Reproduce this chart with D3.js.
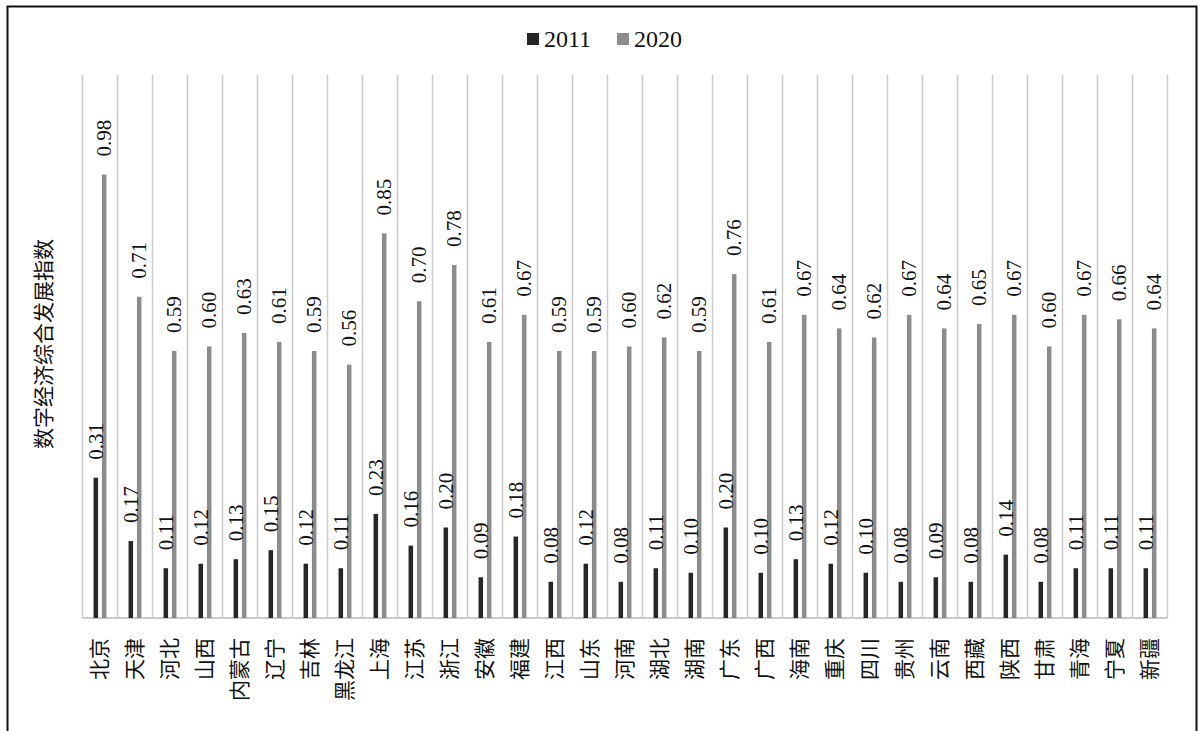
<!DOCTYPE html>
<html>
<head>
<meta charset="utf-8">
<script src="https://cdn.jsdelivr.net/npm/d3@7"></script>
<style>
  body { margin: 0; background: #fff; }
  svg { display: block; }
</style>
</head>
<body>
<div id="chart"></div>
<script>
const provinces = ["北京", "天津", "河北", "山西", "内蒙古", "辽宁", "吉林", "黑龙江", "上海", "江苏",
    "浙江", "安徽", "福建", "江西", "山东", "河南", "湖北", "湖南", "广东", "广西",
    "海南", "重庆", "四川", "贵州", "云南", "西藏", "陕西", "甘肃", "青海", "宁夏", "新疆"];
const years = ["2011", "2020"];
const values2011 = [0.31, 0.17, 0.11, 0.12, 0.13, 0.15, 0.12, 0.11, 0.23, 0.16,
    0.20, 0.09, 0.18, 0.08, 0.12, 0.08, 0.11, 0.10, 0.20, 0.10,
    0.13, 0.12, 0.10, 0.08, 0.09, 0.08, 0.14, 0.08, 0.11, 0.11, 0.11];
const values2020 = [0.98, 0.71, 0.59, 0.60, 0.63, 0.61, 0.59, 0.56, 0.85, 0.70,
    0.78, 0.61, 0.67, 0.59, 0.59, 0.60, 0.62, 0.59, 0.76, 0.61,
    0.67, 0.64, 0.62, 0.67, 0.64, 0.65, 0.67, 0.60, 0.67, 0.66, 0.64];
const yTitle = "数字经济综合发展指数";

const width = 1198, height = 731;
const plotLeft = 82.5, plotRight = 1167.5, plotTop = 75, plotBottom = 618;     // plot area
const colors = { "2011": "#262626", "2020": "#8c8c8c" };
const serif = "'Liberation Serif', 'Times New Roman', serif";
const cjk = "'Noto Sans CJK SC', sans-serif";

const rows = provinces.map((p, i) => ({ name: p, "2011": values2011[i], "2020": values2020[i] }));

const svg = d3.select("#chart").append("svg")
    .attr("width", width)
    .attr("height", height);

// outer frame
svg.append("rect")
    .attr("x", 7.5).attr("y", 6.5)
    .attr("width", 1189).attr("height", 740)
    .attr("fill", "none")
    .attr("stroke", "#111")
    .attr("stroke-width", 2);

const x0 = d3.scaleBand().domain(provinces).range([plotLeft, plotRight]).padding(0);
const x1 = d3.scaleBand().domain(years).range([0, x0.bandwidth()])
    .paddingInner(0.46).paddingOuter(1.32);
const y = d3.scaleLinear().domain([0, 1.2]).range([plotBottom, plotTop]);

// vertical separators between categories
const edges = provinces.map(p => x0(p)).concat([plotRight]);
svg.append("g").selectAll("line")
    .data(edges)
    .join("line")
    .attr("x1", d => d).attr("x2", d => d)
    .attr("y1", plotTop).attr("y2", plotBottom)
    .attr("stroke", "#cacaca")
    .attr("stroke-width", 1.5);

// baseline
svg.append("line")
    .attr("x1", plotLeft).attr("x2", plotRight)
    .attr("y1", plotBottom).attr("y2", plotBottom)
    .attr("stroke", "#cacaca")
    .attr("stroke-width", 2);

// bars + value labels
const groups = svg.append("g").selectAll("g")
    .data(rows)
    .join("g")
    .attr("transform", d => `translate(${x0(d.name)},0)`);

groups.selectAll("rect")
    .data(d => years.map(k => ({ key: k, value: d[k] })))
    .join("rect")
    .attr("x", d => x1(d.key))
    .attr("y", d => y(d.value))
    .attr("width", x1.bandwidth())
    .attr("height", d => plotBottom - y(d.value))
    .attr("fill", d => colors[d.key]);

groups.selectAll("text")
    .data(d => years.map(k => ({ key: k, value: d[k] })))
    .join("text")
    .attr("transform", d => `translate(${x1(d.key) + x1.bandwidth() / 2 + 7},${y(d.value) - 18}) rotate(-90)`)
    .attr("font-family", serif)
    .attr("font-size", 21)
    .attr("fill", "#111")
    .text(d => d.value.toFixed(2));

// category labels (rotated, reading upward, top-aligned)
svg.append("g").selectAll("text")
    .data(provinces)
    .join("text")
    .attr("transform", d => `translate(${x0(d) + x0.bandwidth() / 2 + 7},638) rotate(-90)`)
    .attr("text-anchor", "end")
    .attr("font-family", cjk)
    .attr("font-size", 21)
    .attr("fill", "#111")
    .text(d => d);

// y title
svg.append("text")
    .attr("transform", `translate(51,344) rotate(-90)`)
    .attr("text-anchor", "middle")
    .attr("font-family", cjk)
    .attr("font-size", 21)
    .attr("fill", "#111")
    .text(yTitle);

// legend
const legend = svg.append("g").attr("transform", "translate(527,33)");
const legendItems = legend.selectAll("g")
    .data(years)
    .join("g")
    .attr("transform", (d, i) => `translate(${i * 90},0)`);
legendItems.append("rect")
    .attr("width", 12).attr("height", 12)
    .attr("fill", d => colors[d]);
legendItems.append("text")
    .attr("x", 17).attr("y", 14)
    .attr("font-family", serif)
    .attr("font-size", 24)
    .attr("fill", "#111")
    .text(d => d);
</script>
</body>
</html>
